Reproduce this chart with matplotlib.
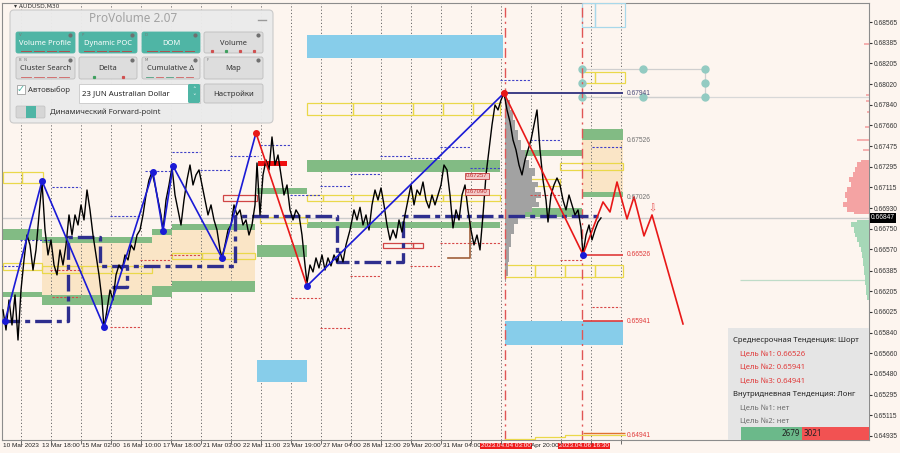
import numpy as np
import matplotlib.pyplot as plt
from matplotlib.patches import Rectangle, FancyBboxPatch

plt.rcParams['font.family'] = ['DejaVu Sans']

BG = '#FDF5EF'

# ---------------- data (x = bar position, y = price) ----------------
price_x = [3, 6, 9, 12, 15, 18, 21, 24, 27, 30,
           33, 36, 39, 42, 45, 48, 51, 54, 57, 60,
           63, 66, 69, 72, 75, 78, 81, 84, 87, 90,
           93, 96, 99, 102, 104, 107, 110, 113, 116, 119,
           122, 125, 128, 131, 134, 137, 140, 143, 146, 149,
           152, 155, 158, 161, 163, 166, 169, 172, 175, 178,
           181, 184, 187, 190, 193, 196, 199, 202, 205, 208,
           211, 214, 217, 220, 222, 225, 228, 231, 234, 237,
           240, 243, 246, 249, 252, 255, 257, 260, 263, 266,
           269, 272, 275, 278, 281, 284, 287, 290, 293, 296,
           299, 302, 305, 307, 310, 313, 316, 319, 322, 325,
           328, 331, 334, 337, 340, 343, 346, 350, 354, 357,
           360, 363, 366, 369, 372, 375, 378, 381, 384, 387,
           390, 393, 396, 399, 402, 405, 408, 411, 414, 417,
           420, 423, 426, 429, 432, 435, 438, 441, 444, 447,
           450, 453, 456, 459, 462, 465, 468, 471, 474, 477,
           480, 483, 486, 489, 492, 495, 498, 501, 504, 507,
           510, 513, 516, 519, 522, 525, 528, 531, 534, 537,
           540, 543, 546, 548, 551, 554, 557, 560, 563, 566,
           569, 572, 575, 578, 581, 583, 586, 589, 592, 595,
           598, 601]
price_y = [0.66040, 0.65864, 0.66127, 0.65908, 0.66171, 0.65776, 0.66215, 0.66478, 0.66697, 0.66610,
           0.66390, 0.66566, 0.66873, 0.67162, 0.66741, 0.66522, 0.66654, 0.66434, 0.66347, 0.66566,
           0.66434, 0.66610, 0.66873, 0.66697, 0.66873, 0.66785, 0.66961, 0.66829, 0.67092, 0.66917,
           0.66697, 0.66522, 0.66347, 0.66127, 0.65881, 0.66040, 0.66215, 0.66127, 0.66347, 0.66434,
           0.66390, 0.66522, 0.66478, 0.66610, 0.66566, 0.66697, 0.66741, 0.66873, 0.67048, 0.67180,
           0.67250, 0.67136, 0.67004, 0.66873, 0.66741, 0.67004, 0.67136, 0.67294, 0.67048, 0.66917,
           0.66785, 0.67004, 0.67180, 0.67311, 0.67136, 0.67224, 0.67268, 0.67136, 0.67004, 0.66873,
           0.66961, 0.66829, 0.66741, 0.66566, 0.66496, 0.66610, 0.66741, 0.66785, 0.66961, 0.66873,
           0.66917, 0.66785, 0.66829, 0.66697, 0.66785, 0.66961, 0.67329, 0.66873, 0.67224, 0.67355,
           0.67268, 0.67557, 0.67311, 0.67399, 0.67224, 0.67048, 0.67136, 0.66917, 0.66829, 0.66917,
           0.66873, 0.66697, 0.66434, 0.66277, 0.66434, 0.66373, 0.66496, 0.66408, 0.66522, 0.66390,
           0.66496, 0.66426, 0.66522, 0.66461, 0.66548, 0.66461, 0.66610, 0.66741, 0.66917, 0.66829,
           0.66940, 0.66785, 0.66873, 0.66741, 0.66961, 0.67092, 0.67004, 0.67110, 0.66961, 0.66785,
           0.66654, 0.66741, 0.66671, 0.66829, 0.66723, 0.66873, 0.67004, 0.67136, 0.66961, 0.67092,
           0.67048, 0.67162, 0.67004, 0.66934, 0.67048, 0.66961, 0.67048, 0.67136, 0.67311, 0.67268,
           0.67048, 0.66759, 0.66917, 0.66829, 0.67048, 0.67136, 0.66917, 0.66741, 0.66610, 0.66697,
           0.66566, 0.66873, 0.67224, 0.67443, 0.67662, 0.67838, 0.67794, 0.67881, 0.67941, 0.67794,
           0.67689, 0.67531, 0.67443, 0.67311, 0.67224, 0.67355, 0.67443, 0.67531, 0.67662, 0.67794,
           0.67443, 0.67180, 0.67004, 0.66811, 0.67048, 0.67136, 0.67197, 0.67136, 0.67004, 0.66917,
           0.67048, 0.66961, 0.66873, 0.66917, 0.66759, 0.66526, 0.66697, 0.66785, 0.66654, 0.66741,
           0.66811, 0.66847]

# zigzag swing points
zz_x = [5, 42, 104, 153, 163, 173, 222, 256, 307, 504, 583]
zz_y = [0.65943, 0.67171, 0.65891, 0.67250, 0.66732, 0.67303, 0.66496, 0.67592, 0.66250, 0.67941, 0.66526]
zz_red = [False, False, False, False, False, False, False, True, False, True, False]

# forecast path
fc_x = [583, 603, 610, 617, 627, 634, 644, 652, 683]
fc_y = [0.66526, 0.66987, 0.66899, 0.67162, 0.66838, 0.67031, 0.66689, 0.66873, 0.65917]

# POC step line
poc_x = [3, 68, 68, 100, 100, 235, 235, 337, 337, 403, 403, 600]
poc_y = [0.65943, 0.65943, 0.66680, 0.66680, 0.66426, 0.66426, 0.66864, 0.66864, 0.66461, 0.66461, 0.66864, 0.66864]
poc2_x = [112, 127, 127]
poc2_y = [0.66242, 0.66242, 0.66426]

# volume zones
green_x0 = [3, 42, 152, 172, 3, 42, 152, 172, 257, 257, 307, 307, 508, 508, 582, 582]
green_x1 = [42, 152, 172, 255, 42, 152, 172, 255, 307, 307, 500, 500, 582, 582, 623, 623]
green_hi = [0.66750, 0.66680, 0.66750, 0.66794, 0.66198, 0.66171, 0.66250, 0.66294,
            0.67110, 0.66610, 0.67355, 0.66811, 0.67443, 0.66934, 0.67627, 0.67074]
green_lo = [0.66654, 0.66627, 0.66697, 0.66741, 0.66154, 0.66083, 0.66154, 0.66198,
            0.67057, 0.66505, 0.67250, 0.66759, 0.67390, 0.66855, 0.67531, 0.67031]

beige_x0 = [42, 152, 172, 582]
beige_x1 = [152, 172, 255, 623]
beige_hi = [0.66627, 0.66697, 0.66741, 0.67531]
beige_lo = [0.66171, 0.66250, 0.66294, 0.67074]

blue_x0 = [307, 257, 505]
blue_x1 = [503, 307, 623]
blue_hi = [0.68451, 0.65601, 0.65943]
blue_lo = [0.68250, 0.65408, 0.65733]

yellow_x0 = [3, 22, 3, 42, 82, 112, 172, 202, 260, 307, 323, 353, 413, 443,
             307, 353, 413, 443, 473, 507, 560, 505, 535, 565, 595, 582, 595]
yellow_x1 = [22, 43, 42, 82, 112, 152, 202, 255, 307, 323, 353, 413, 443, 500,
             353, 413, 443, 473, 500, 560, 623, 535, 565, 595, 623, 595, 625]
yellow_hi = [0.67250, 0.67250, 0.66452, 0.66426, 0.66426, 0.66426, 0.66539, 0.66539, 0.66855,
             0.67048, 0.67048, 0.67048, 0.67048, 0.67048,
             0.67855, 0.67855, 0.67855, 0.67855, 0.67855, 0.67189, 0.67329,
             0.66434, 0.66434, 0.66434, 0.66434, 0.68127, 0.68127]
yellow_lo = [0.67154, 0.67154, 0.66390, 0.66364, 0.66364, 0.66364, 0.66487, 0.66487, 0.66802,
             0.66996, 0.66996, 0.66996, 0.66996, 0.66996,
             0.67750, 0.67750, 0.67750, 0.67750, 0.67750, 0.67127, 0.67268,
             0.66329, 0.66329, 0.66329, 0.66329, 0.68030, 0.68030]

red_box_x0 = [223, 383, 413]
red_box_x1 = [257, 413, 423]
red_box_hi = [0.67048, 0.66627, 0.66627]
red_box_lo = [0.66996, 0.66583, 0.66583]

# short level dashes
blue_lv_x0 = [0, 20, 52, 110, 145, 172, 200, 230, 260, 290, 320, 350, 380, 410, 440, 470, 500, 530, 592]
blue_lv_x1 = [20, 50, 80, 140, 170, 200, 230, 258, 290, 320, 350, 380, 410, 440, 470, 500, 530, 560, 622]
blue_lv_y = [0.66426, 0.66654, 0.67118, 0.66864, 0.67259, 0.67425, 0.67268, 0.67390, 0.67487,
             0.67048, 0.67127, 0.67233, 0.67390, 0.67373, 0.67469, 0.67285, 0.68056, 0.67531, 0.67469]
red_lv_x0 = [50, 52, 110, 140, 170, 291, 320, 350, 410, 440, 470, 530, 560, 592]
red_lv_x1 = [80, 80, 140, 170, 200, 320, 350, 380, 440, 470, 500, 560, 582, 620]
red_lv_y = [0.66390, 0.66154, 0.65891, 0.66478, 0.66522, 0.66145, 0.65881, 0.66338,
            0.66426, 0.66628, 0.66628, 0.67048, 0.66478, 0.66066]

# levels with labels
lvl_names = ['0.67941', '0.67526', '0.67026', '0.66526', '0.65941', '0.64941']
lvl_vals = [0.67941, 0.67526, 0.67026, 0.66526, 0.65941, 0.64941]
lvl_cols = ['#4A4A7A', '#707070', '#707070', '#E03A3A', '#E03A3A', '#E03A3A']

# volume profile (grey) and right-side histogram
vp_price = [0.67925, 0.67838, 0.67750, 0.67662, 0.67574, 0.67487, 0.67399, 0.67311, 0.67250, 0.67180,
            0.67136, 0.67092, 0.67048, 0.67004, 0.66961, 0.66917, 0.66873, 0.66829, 0.66759, 0.66654,
            0.66522, 0.66390, 0.66285]
vp_width = [2, 5, 8, 10, 13, 16, 20, 24, 30, 27, 33, 30, 36, 31, 34, 27, 20, 13, 9, 6, 4, 3, 1]

sell_price = [0.67355, 0.67311, 0.67268, 0.67224, 0.67180, 0.67136, 0.67092, 0.67048, 0.67004,
              0.66961, 0.66917, 0.66882]
sell_width = [8, 12, 14, 16, 20, 18, 22, 24, 22, 26, 22, 15]
sell_spike_price = [0.68372, 0.67925, 0.67873, 0.67776, 0.67645, 0.67531, 0.67443]
sell_spike_width = [5, 3, 3, 2, 4, 12, 6]
buy_price = [0.66829, 0.66785, 0.66741, 0.66697, 0.66654, 0.66610, 0.66566, 0.66522, 0.66461,
             0.66390, 0.66303, 0.66215, 0.66127]
buy_width = [12, 18, 15, 14, 12, 10, 8, 7, 6, 5, 4, 3, 2]

current_price = 0.66847

ytick_vals = [0.68565, 0.68385, 0.68205, 0.68020, 0.67840, 0.67660, 0.67475, 0.67295, 0.67115,
              0.66930, 0.66750, 0.66570, 0.66385, 0.66205, 0.66025, 0.65840, 0.65660, 0.65480,
              0.65295, 0.65115, 0.64935]
grid_x = [21, 51, 81, 111, 141, 171, 201, 231, 261, 291, 321, 351, 381, 411, 441, 471, 501,
          531, 561, 591, 621]
xlab_pos = [3, 42, 82, 123, 163, 203, 243, 283, 323, 363, 403, 443, 481, 531, 559]
xlab_txt = ['10 Mar 2023', '13 Mar 18:00', '15 Mar 02:00', '16 Mar 10:00', '17 Mar 18:00',
            '21 Mar 03:00', '22 Mar 11:00', '23 Mar 19:00', '27 Mar 04:00', '28 Mar 12:00',
            '29 Mar 20:00', '31 Mar 04:00', '2023.04.04 03:00', 'Apr 20:00', '2023.04.06 16:30']
xlab_red = [12, 14]

info_lines = ['Среднесрочная Тенденция: Шорт', 'Цель №1: 0.66526', 'Цель №2: 0.65941',
              'Цель №3: 0.64941', 'Внутридневная Тенденция: Лонг', 'Цель №1: нет', 'Цель №2: нет']
info_cols = ['#222222', '#E03A3A', '#E03A3A', '#E03A3A', '#222222', '#6E6E6E', '#6E6E6E']
buy_count, sell_count = 2679, 3021

# ---------------- figure ----------------
fig = plt.figure(figsize=(9, 4.53), dpi=100, facecolor=BG)
ax = fig.add_axes([2/900, 13/453, 867/900, 437/453], facecolor=BG)
ax.set_xlim(2, 869)
ax.set_ylim(0.64899, 0.68732)


def box(x0, x1, lo, hi, **kw):
    ax.add_patch(Rectangle((x0, lo), x1 - x0, hi - lo, **kw))


for i in range(len(beige_x0)):
    box(beige_x0[i], beige_x1[i], beige_lo[i], beige_hi[i], fc='#FAE5C6', ec='none', zorder=1)
for i in range(len(green_x0)):
    box(green_x0[i], green_x1[i], green_lo[i], green_hi[i], fc='#82BB84', ec='none', zorder=2)
for i in range(len(blue_x0)):
    box(blue_x0[i], blue_x1[i], blue_lo[i], blue_hi[i], fc='#87CDEA', ec='none', zorder=2)
for i in range(len(yellow_x0)):
    box(yellow_x0[i], yellow_x1[i], yellow_lo[i], yellow_hi[i], fc='none', ec='#EAD84A', lw=0.9, zorder=3)
for i in range(len(red_box_x0)):
    box(red_box_x0[i], red_box_x1[i], red_box_lo[i], red_box_hi[i], fc='none', ec='#D04545', lw=0.9, zorder=3)

# light-blue outline at top, selection object
box(582, 595, 0.68522, 0.68732, fc='none', ec='#A8D8EA', lw=0.9, zorder=3)
box(595, 625, 0.68522, 0.68732, fc='none', ec='#A8D8EA', lw=0.9, zorder=3)
box(582, 705, 0.67908, 0.68153, fc='none', ec='#CFCFCF', lw=0.9, zorder=3)
for xx in [582, 643, 705]:
    for yy in [0.67908, 0.68030, 0.68153]:
        if xx == 643 and yy == 0.68030:
            continue
        ax.plot(xx, yy, 'o', ms=5, color='#93CBC2', zorder=4)

# red thick bar
box(258, 287, 0.67303, 0.67346, fc='#F01010', ec='none', zorder=4)

# grid
ax.vlines(grid_x, 0.64899, 0.68732, colors='#6A6A6A', linestyles=(0, (1.2, 2.2)), lw=0.7, zorder=1.5)
ax.axhline(current_price, color='#CCCCCC', lw=1.0, zorder=1.6)
ax.hlines(0.67908, 623, 869, colors='#D8D8D8', lw=0.9, zorder=1.6)
ax.hlines(0.66303, 740, 869, colors='#BFDCC8', lw=0.9, zorder=1.6)

# grey volume profile
ax.fill_betweenx(vp_price, 505, 505 + np.array(vp_width), step='mid', color='#A2A2A2', lw=0, zorder=3)

# right side histogram
ax.fill_betweenx(sell_price, 869 - np.array(sell_width), 869, step='mid', color='#F4A3A3', lw=0, zorder=3)
ax.hlines(sell_spike_price, 869 - np.array(sell_spike_width), 869, colors='#F4A3A3', lw=1.2, zorder=3)
ax.fill_betweenx(buy_price, 869 - np.array(buy_width), 869, step='mid', color='#A6D7B7', lw=0, zorder=3)

# short level dashes
ax.hlines(blue_lv_y, blue_lv_x0, blue_lv_x1, colors='#4040C8', linestyles=(0, (2, 1.5)), lw=0.8, zorder=4)
ax.hlines(red_lv_y, red_lv_x0, red_lv_x1, colors='#D84848', linestyles=(0, (2, 1.5)), lw=0.8, zorder=4)

# vertical session markers
for xv in [505, 582]:
    ax.axvline(xv, color='#E05555', lw=1.0, ls=(0, (7, 3, 1.5, 3)), zorder=4)

# POC lines
ax.plot(poc_x, poc_y, color='#2E2E8E', lw=2.4, ls=(0, (5, 1.5, 1.5, 1.5)), zorder=5)
ax.plot(poc2_x, poc2_y, color='#2E2E8E', lw=2.4, ls=(0, (5, 1.5, 1.5, 1.5)), zorder=5)
ax.plot([448, 470, 470], [0.66496, 0.66496, 0.66811], color='#A0603A', lw=1.2, zorder=5)

# price
ax.plot(price_x, price_y, color='black', lw=1.0, zorder=6)

# zigzag
for i in range(len(zz_x) - 1):
    c = '#E81818' if zz_red[i] else '#1A1AD6'
    ax.plot(zz_x[i:i + 2], zz_y[i:i + 2], color=c, lw=1.2, zorder=7)
for xx, yy, rd in zip(zz_x, zz_y, zz_red):
    ax.plot(xx, yy, 'o', ms=4, color='#E81818' if rd else '#1A1AD6', zorder=8)
ax.plot(fc_x, fc_y, color='#E81818', lw=1.2, zorder=7)
ax.text(652, 0.66930, '⇩', color='#E85050', fontsize=7, ha='center', va='center', zorder=8)

# level lines with labels
ax.hlines(0.67941, 504, 623, colors='#30307E', lw=1.3, zorder=6)
ax.hlines([0.66526, 0.65941], 583, 623, colors='#E03A3A', lw=1.2, zorder=6)
ax.hlines(0.64960, 583, 625, colors='#E07030', lw=1.0, zorder=6)
ax.plot([505, 535, 535, 565, 565, 625], [0.64912, 0.64912, 0.64925, 0.64925, 0.64945, 0.64945],
        color='#EAD84A', lw=0.9, zorder=6)
for nm, v, c in zip(lvl_names, lvl_vals, lvl_cols):
    ax.text(627, v, nm, color=c, fontsize=4.8, va='center', ha='left', zorder=8, family='Liberation Sans')

# labelled red boxes
for v, t in [(0.67215, '0.67257'), (0.67075, '0.67090')]:
    ax.text(477, v, t, color='#C03030', fontsize=4.3, ha='center', va='center', zorder=8,
            family='Liberation Sans', bbox=dict(fc='#F3C8C8', ec='#C04040', lw=0.6, pad=0.6))

# axes styling
for s in ax.spines.values():
    s.set_color('#8C8C8C')
    s.set_linewidth(0.8)
ax.yaxis.tick_right()
ax.set_yticks(ytick_vals)
ax.set_yticklabels([f'{v:.5f}' for v in ytick_vals])
ax.tick_params(axis='y', labelsize=4.8, length=2.5, pad=1.2, colors='#333333',
               labelfontfamily='Liberation Sans')
ax.set_xticks(xlab_pos)
ax.set_xticklabels(xlab_txt)
ax.set_xticks(grid_x, minor=True)
ax.tick_params(axis='x', which='major', length=0, labelsize=4.6, pad=2.4, colors='#222222',
               labelfontfamily='Liberation Sans')
ax.tick_params(axis='x', which='minor', length=3, color='#555555')
for i, lab in enumerate(ax.get_xticklabels()):
    lab.set_horizontalalignment('left')
    if i in xlab_red:
        lab.set_color('white')
        lab.set_bbox(dict(fc='#EE1C1C', ec='none', pad=0.5))
ax.text(1.002, current_price, f'{current_price:.5f}', transform=ax.get_yaxis_transform(),
        color='white', fontsize=4.8, va='center', ha='left', zorder=10, clip_on=False,
        family='Liberation Sans', bbox=dict(fc='black', ec='none', pad=0.8))

# ---------------- overlay: panels in pixel space ----------------
ov = fig.add_axes([0, 0, 1, 1], zorder=5)
ov.set_xlim(0, 900)
ov.set_ylim(453, 0)
ov.axis('off')
ov.patch.set_alpha(0)

ov.text(14, 6.5, '▾ AUDUSD,M30', fontsize=4.3, color='#333333', va='center')

ov.add_patch(FancyBboxPatch((10, 10), 263, 113, boxstyle='round,pad=0,rounding_size=4',
                            fc='#EBEBEB', ec='#C9C9C9', lw=0.8, alpha=0.97))
ov.text(133, 19, 'ProVolume 2.07', fontsize=8.5, color='#A2A2A2', ha='center', va='center', family='Noto Sans')
ov.plot([258, 266], [20, 20], color='#9A9A9A', lw=1)

TEAL = '#4FB5A5'
btn_cols = [(16, 75), (79, 137), (142, 200), (204, 263)]
btn_rows = [(32, 53), (57, 79)]
btn_text = [['Volume Profile', 'Dynamic POC', 'DOM', 'Volume'],
            ['Cluster Search', 'Delta', 'Cumulative Δ', 'Map']]
btn_key = [['V', 'P', 'D', ''], ['B  N', '', 'M', 'F']]
btn_teal = [[True, True, True, False], [False, False, False, False]]
for r, (y0, y1) in enumerate(btn_rows):
    for c, (x0, x1) in enumerate(btn_cols):
        teal = btn_teal[r][c]
        ov.add_patch(FancyBboxPatch((x0, y0), x1 - x0, y1 - y0, boxstyle='round,pad=0,rounding_size=2',
                                    fc=TEAL if teal else '#DDDDDD', ec='#BDBDBD' if not teal else TEAL, lw=0.6))
        ov.text((x0 + x1) / 2, (y0 + y1) / 2 + 1, btn_text[r][c], fontsize=5.4, family='Noto Sans',
                color='white' if teal else '#333333', ha='center', va='center')
        if btn_key[r][c]:
            ov.text(x0 + 3, y0 + 3, btn_key[r][c], fontsize=2.8, color='#777777', va='center')
        ov.plot(x1 - 5, y0 + 3, 'o', ms=2.0, color='#707070')
        yb = y1 - 2.3
        if teal:
            for k in range(4):
                seg = x0 + 4 + k * (x1 - x0 - 8) / 4
                ov.plot([seg + 1, seg + (x1 - x0 - 8) / 4 - 2], [yb, yb], color='#B05050', lw=0.7)
        elif (r, c) == (0, 3):
            for k, cc in enumerate(['#D05050', '#40A060', '#D05050', '#D05050']):
                ov.plot(x0 + 8 + k * 14, yb, 's', ms=1.3, color=cc)
        elif (r, c) == (1, 0):
            for k in range(4):
                seg = x0 + 4 + k * (x1 - x0 - 8) / 4
                ov.plot([seg + 1, seg + (x1 - x0 - 8) / 4 - 2], [yb, yb], color='#D06060', lw=0.6)
        elif (r, c) == (1, 1):
            ov.plot(x0 + 15, yb, 's', ms=1.3, color='#40A060')
            ov.plot(x0 + 44, yb, 's', ms=1.3, color='#D05050')
        elif (r, c) == (1, 2):
            for k, cc in enumerate(['#50A080', '#D06060', '#50A080', '#D06060', '#D06060']):
                seg = x0 + 4 + k * 10
                ov.plot([seg, seg + 7], [yb, yb], color=cc, lw=0.6)

# checkbox row
ov.add_patch(Rectangle((17, 85), 8, 9, fc='white', ec='#A0A0A0', lw=0.6))
ov.text(21, 89, '✓', fontsize=7, color=TEAL, ha='center', va='center')
ov.text(28, 90, 'Автовыбор', fontsize=5.6, color='#333333', va='center', family='Noto Sans')
ov.add_patch(Rectangle((79, 84), 121, 19, fc='white', ec='#C8C8C8', lw=0.6))
ov.add_patch(FancyBboxPatch((188, 84), 12, 19, boxstyle='round,pad=0,rounding_size=1.5', fc=TEAL, ec='none'))
ov.text(194, 90.5, '˄', fontsize=5, color='white', ha='center', va='center')
ov.text(194, 97, '˅', fontsize=5, color='white', ha='center', va='center')
ov.text(82, 93.5, '23 JUN Australian Dollar', fontsize=5.6, color='#222222', va='center', family='Noto Sans')
ov.add_patch(FancyBboxPatch((204, 84), 59, 19, boxstyle='round,pad=0,rounding_size=2',
                            fc='#DDDDDD', ec='#BDBDBD', lw=0.6))
ov.text(233.5, 94, 'Настройки', fontsize=5.6, color='#333333', ha='center', va='center', family='Noto Sans')

# toggle row
ov.add_patch(FancyBboxPatch((16, 106), 29, 12, boxstyle='round,pad=0,rounding_size=1.5',
                            fc='#D6D6D6', ec='#C0C0C0', lw=0.5))
ov.add_patch(Rectangle((26, 106), 10, 12, fc=TEAL, ec='none'))
ov.text(50, 112.5, 'Динамический Forward-point', fontsize=5.6, color='#333333', va='center', family='Noto Sans')

# info panel (bottom right)
ov.add_patch(Rectangle((728, 328), 141, 112, fc='#E5E5E5', ec='none', alpha=0.97))
info_y = [341, 354.5, 368, 381.5, 395, 408.5, 422]
for i, (t, c) in enumerate(zip(info_lines, info_cols)):
    xx = 733 if c == '#222222' else 740
    ov.text(xx, info_y[i], t, fontsize=5.5, color=c, va='center', family='Noto Sans')
ov.add_patch(Rectangle((741, 427), 61, 13, fc='#6BB98A', ec='none'))
ov.add_patch(Rectangle((802, 427), 67, 13, fc='#F25252', ec='none'))
ov.text(800, 433.5, str(buy_count), fontsize=5.8, color='#222222', ha='right', va='center', family='Noto Sans')
ov.text(804, 433.5, str(sell_count), fontsize=5.8, color='#222222', ha='left', va='center', family='Noto Sans')

fig.savefig('out.png', dpi=100, facecolor=BG)
